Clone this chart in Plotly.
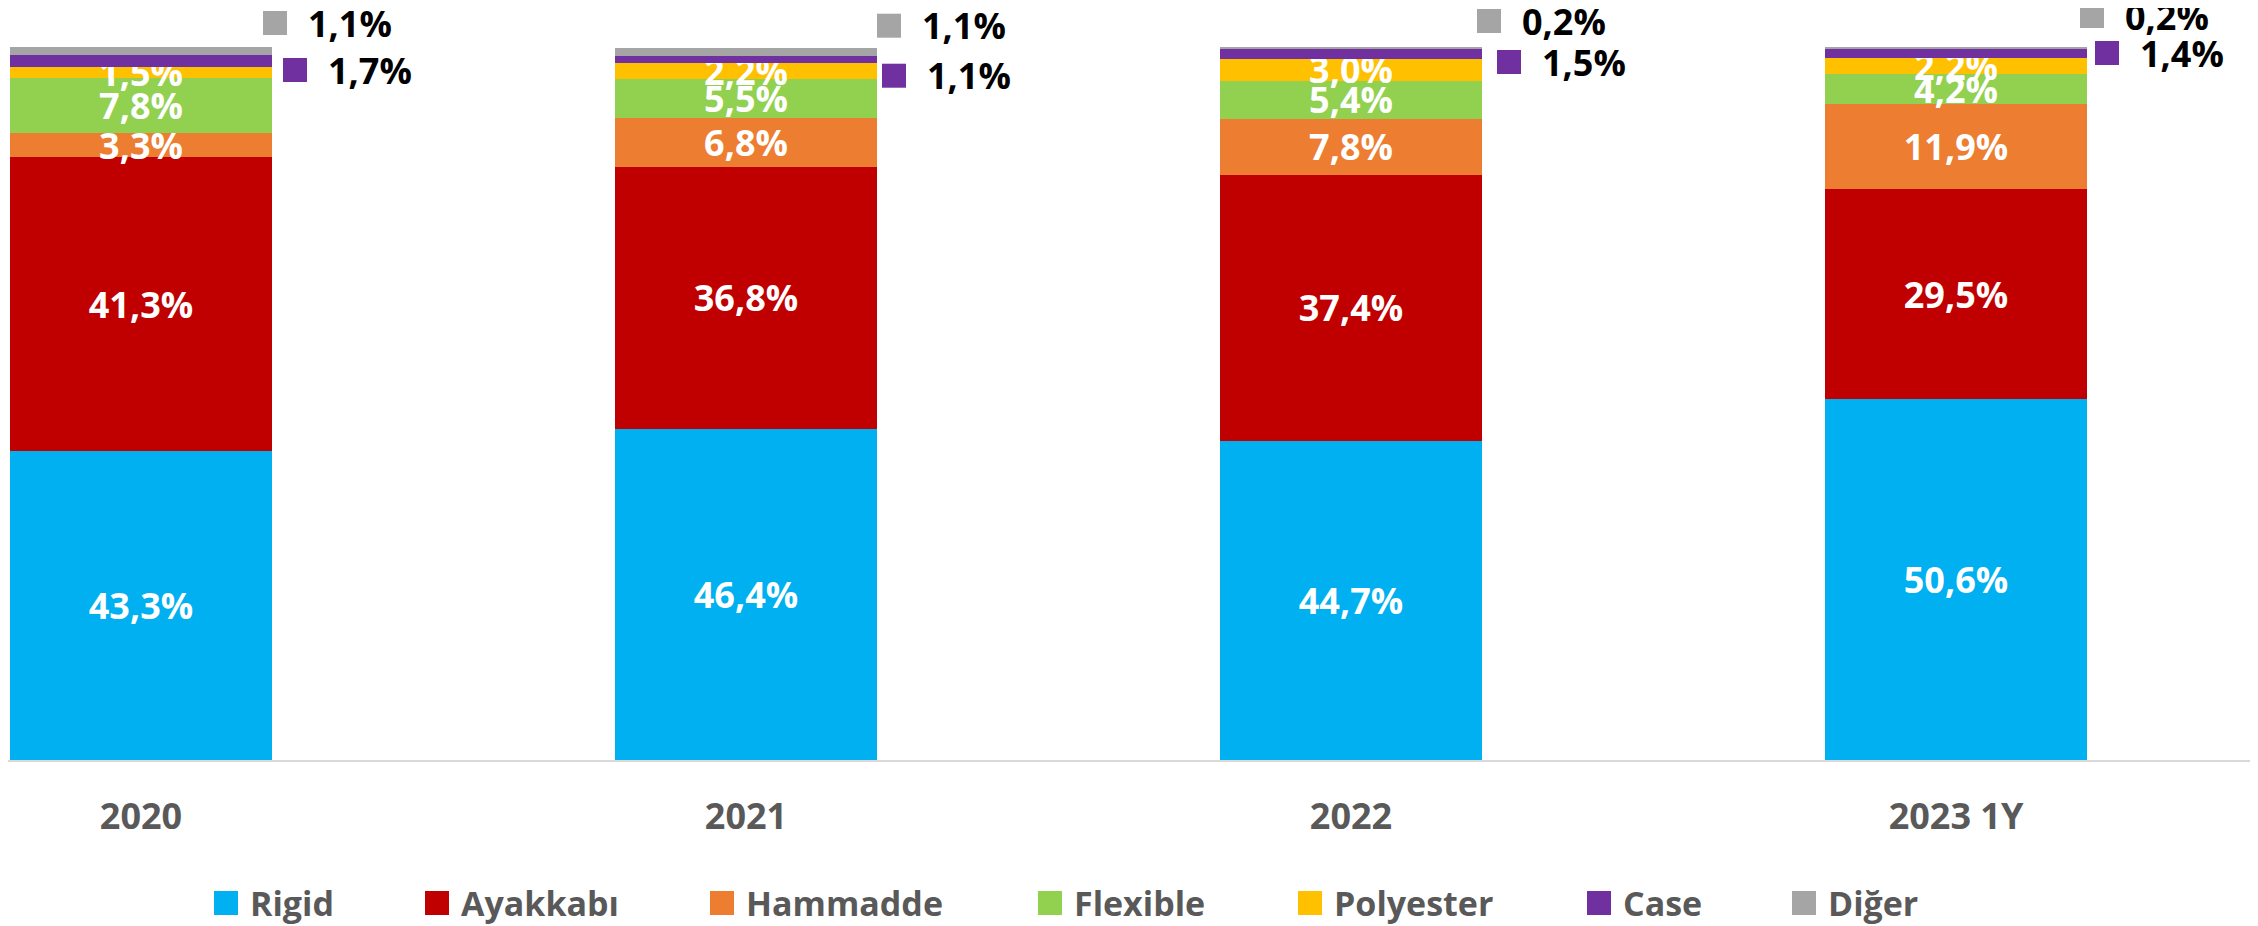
import plotly.graph_objects as go

# ---------------- data ----------------
categories = ["2020", "2021", "2022", "2023 1Y"]
series_names = ["Rigid", "Ayakkabı", "Hammadde", "Flexible", "Polyester", "Case", "Diğer"]
rigid = [43.3, 46.4, 44.7, 50.6]
ayakkabi = [41.3, 36.8, 37.4, 29.5]
hammadde = [3.3, 6.8, 7.8, 11.9]
flexible = [7.8, 5.5, 5.4, 4.2]
polyester = [1.5, 2.2, 3.0, 2.2]
case = [1.7, 1.1, 1.5, 1.4]
diger = [1.1, 1.1, 0.2, 0.2]

# ---------------- styles / layout ----------------
colors = ["#00B0F0", "#C00000", "#ED7D31", "#92D050", "#FFC000", "#7030A0", "#A5A5A5"]
inside_label = [True, True, True, True, True, False, False]
FONT = "Open Sans"
OFF = 8                      # default page body margin
W, H = 2258 - OFF, 926 - OFF
BAR_W = 0.433
CAT_PX = 605                 # pixels per category
FIRST_CENTER_PX = 141 - OFF
PLOT_BOTTOM_PX = 760 - OFF
TOP_PX = 47 - OFF            # pixel where 100% sits

def fmt(v):
    return f"{v:.1f}".replace(".", ",") + "%"

series = [rigid, ayakkabi, hammadde, flexible, polyester, case, diger]
xpos = list(range(len(categories)))

fig = go.Figure()
for name, vals, col, lab in zip(series_names, series, colors, inside_label):
    fig.add_trace(go.Bar(
        x=xpos, y=vals, name=name, width=BAR_W,
        marker=dict(color=col, line=dict(width=0)),
        text=[fmt(v) for v in vals] if lab else None,
        textposition="inside" if lab else "none",
        insidetextanchor="middle",
        textangle=0,
        insidetextfont=dict(family=FONT, size=36, color="white", weight="bold"),
        showlegend=False,
        hoverinfo="name+y",
    ))

# outside labels for Case and Diğer (pixel offsets relative to bar top-right corner)
sq = 24
diger_dx = [-9, 0, -5, -7]
diger_dy = [24, 22, 26, 31]
case_dx = [11, 5, 15, 8]
case_dy = [-23, -28, -15, -6]
text_gap = 19

shapes = []
annotations = []
for i in xpos:
    top = sum(s[i] for s in series)
    edge = i + BAR_W / 2
    for vals, col, dxs, dys in ((diger, colors[6], diger_dx, diger_dy),
                               (case, colors[5], case_dx, case_dy)):
        dx, dy = dxs[i], dys[i]
        shapes.append(dict(type="rect", xref="x", yref="y",
                           xsizemode="pixel", ysizemode="pixel",
                           xanchor=edge, yanchor=top,
                           x0=dx, x1=dx + sq, y0=dy - sq / 2, y1=dy + sq / 2,
                           fillcolor=col, line=dict(width=0)))
        annotations.append(dict(xref="x", yref="y", x=edge, y=top,
                                xshift=dx + sq + text_gap, yshift=dy,
                                xanchor="left", yanchor="middle",
                                text=fmt(vals[i]), showarrow=False,
                                font=dict(family=FONT, size=36, color="black", weight="bold")))

# custom legend
leg_marker_px = [214, 425, 710, 1038, 1298, 1587, 1792]
leg_y_px = 903 - OFF
leg_y = (PLOT_BOTTOM_PX - leg_y_px) / PLOT_BOTTOM_PX
for name, col, mx in zip(series_names, colors, leg_marker_px):
    mx = mx - OFF
    shapes.append(dict(type="rect", xref="paper", yref="paper",
                       xsizemode="pixel", ysizemode="pixel",
                       xanchor=mx / W, yanchor=leg_y,
                       x0=0, x1=sq, y0=-sq / 2, y1=sq / 2,
                       fillcolor=col, line=dict(width=0)))
    annotations.append(dict(xref="paper", yref="paper", x=(mx + sq + 10) / W, y=leg_y,
                            xanchor="left", yanchor="middle", text=name, showarrow=False,
                            font=dict(family=FONT, size=34, color="#595959", weight="bold")))

ymax = 100 * PLOT_BOTTOM_PX / (PLOT_BOTTOM_PX - TOP_PX)
fig.update_layout(
    barmode="stack",
    width=W, height=H,
    margin=dict(l=0, r=0, t=0, b=H - PLOT_BOTTOM_PX, pad=0),
    plot_bgcolor="white", paper_bgcolor="white",
    uniformtext=dict(minsize=36, mode="show"),
    shapes=shapes, annotations=annotations,
    showlegend=False,
    xaxis=dict(range=[-FIRST_CENTER_PX / CAT_PX, (W - FIRST_CENTER_PX) / CAT_PX],
               tickvals=xpos, ticktext=categories,
               showgrid=False, zeroline=False, showline=True, linecolor="#D9D9D9", linewidth=2,
               ticks="", ticklabelstandoff=24,
               tickfont=dict(family=FONT, size=36, color="#595959", weight="bold")),
    yaxis=dict(range=[0, ymax], visible=False, showgrid=False, zeroline=False),
)

fig.write_html("out.html")
